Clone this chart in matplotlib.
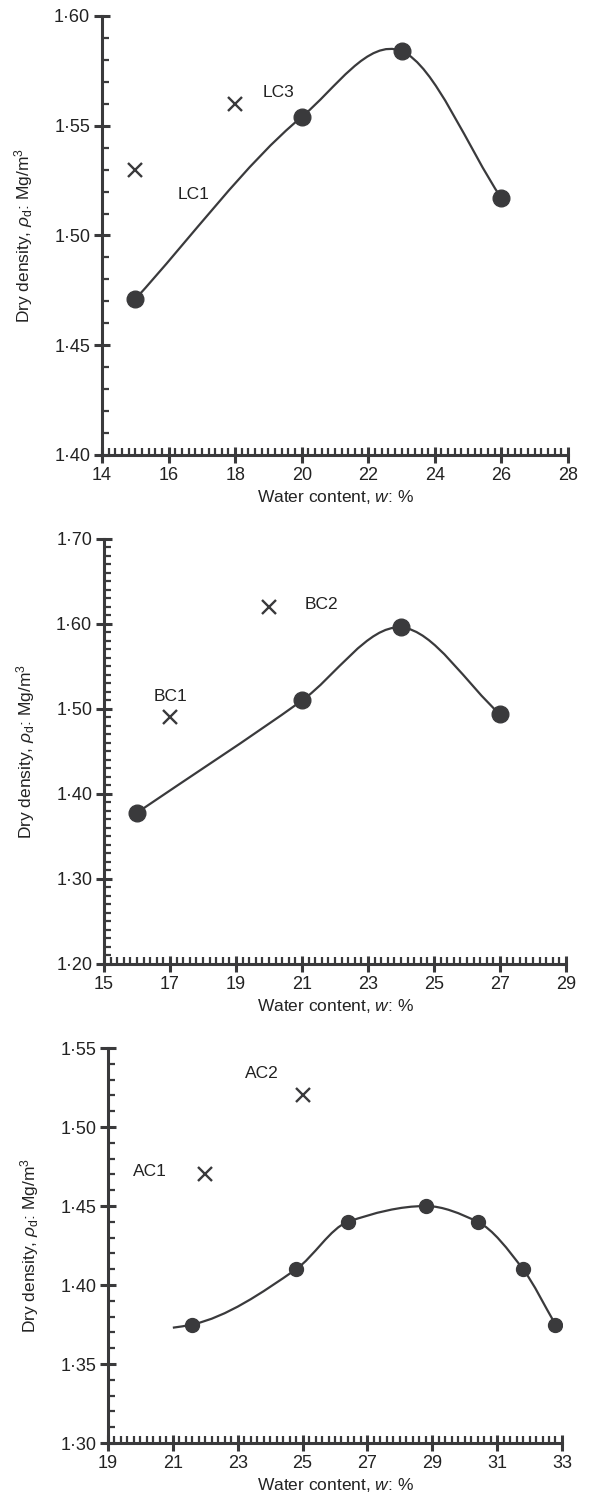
import numpy as np
import matplotlib
matplotlib.use("Agg")
import matplotlib.pyplot as plt
from matplotlib.path import Path
from matplotlib.patches import PathPatch
from matplotlib.ticker import MultipleLocator, FuncFormatter

plt.rcParams['font.family'] = ['Liberation Sans', 'DejaVu Sans']
plt.rcParams['mathtext.fontset'] = 'custom'
plt.rcParams['mathtext.rm'] = 'Liberation Sans'
plt.rcParams['mathtext.it'] = 'Liberation Sans:italic'

INK = '#3a3a3c'

# ---- data ----
# panel 1 (LC)
lc_w = [15, 20, 23, 26]
lc_rho = [1.471, 1.554, 1.584, 1.517]
lc_x_w = [15, 18]
lc_x_rho = [1.53, 1.56]
lc_names = ['LC1', 'LC3']
lc_xticks = [14, 16, 18, 20, 22, 24, 26, 28]

# panel 2 (BC)
bc_w = [16, 21, 24, 27]
bc_rho = [1.378, 1.51, 1.596, 1.494]
bc_x_w = [17, 20]
bc_x_rho = [1.49, 1.62]
bc_names = ['BC1', 'BC2']
bc_xticks = [15, 17, 19, 21, 23, 25, 27, 29]

# panel 3 (AC)
ac_w = [21.6, 24.8, 26.4, 28.8, 30.4, 31.8, 32.8]
ac_rho = [1.375, 1.41, 1.44, 1.45, 1.44, 1.41, 1.375]
ac_curve_w = [21.0, 21.6, 24.8, 26.4, 28.8, 30.4, 31.8, 32.8]
ac_curve_rho = [1.373, 1.375, 1.41, 1.44, 1.45, 1.44, 1.41, 1.375]
ac_x_w = [22, 25]
ac_x_rho = [1.47, 1.52]
ac_names = ['AC1', 'AC2']
ac_xticks = [19, 21, 23, 25, 27, 29, 31, 33]


def slopes(x, y, monotone):
    h = np.diff(x)
    s = np.diff(y) / h
    m = np.empty_like(x)
    m[0] = s[0]
    m[-1] = s[-1]
    for k in range(1, len(x) - 1):
        if monotone:
            # pchip style: flat at turning points
            if s[k - 1] * s[k] <= 0:
                m[k] = 0.0
            else:
                w1 = 2 * h[k] + h[k - 1]
                w2 = h[k] + 2 * h[k - 1]
                m[k] = (w1 + w2) / (w1 / s[k - 1] + w2 / s[k])
        else:
            m[k] = (h[k] * s[k - 1] + h[k - 1] * s[k]) / (h[k - 1] + h[k])
    return m


def smooth_path(xs, ys, monotone=False):
    # cubic hermite in x, drawn as bezier segments
    x = np.asarray(xs, float)
    y = np.asarray(ys, float)
    m = slopes(x, y, monotone)
    verts = [(x[0], y[0])]
    codes = [Path.MOVETO]
    for i in range(len(x) - 1):
        d = (x[i + 1] - x[i]) / 3
        verts += [(x[i] + d, y[i] + m[i] * d),
                  (x[i + 1] - d, y[i + 1] - m[i + 1] * d),
                  (x[i + 1], y[i + 1])]
        codes += [Path.CURVE4] * 3
    return Path(verts, codes)


dot = FuncFormatter(lambda v, pos: ('%.2f' % v).replace('.', '\u00b7'))


def setup(ax, xlim, xticks, ylim, ymaj, ymin):
    ax.set_xlim(*xlim)
    ax.set_ylim(*ylim)
    for s in ['top', 'right']:
        ax.spines[s].set_visible(False)
    for s in ['left', 'bottom']:
        ax.spines[s].set_linewidth(2.2)
        ax.spines[s].set_color(INK)
    ax.set_xticks(xticks)
    ax.xaxis.set_minor_locator(MultipleLocator(0.2))
    ax.yaxis.set_major_locator(MultipleLocator(ymaj))
    ax.yaxis.set_minor_locator(MultipleLocator(ymin))
    ax.yaxis.set_major_formatter(dot)
    ax.tick_params(which='major', direction='inout', length=11, width=2.2,
                   color=INK, labelsize=13, labelcolor='#222222', pad=3)
    ax.tick_params(which='minor', direction='in', length=5, width=1.6, color=INK)
    ax.set_xlabel(r'Water content, $w$: %', fontsize=12.5, color='#222222', labelpad=3)
    ax.set_ylabel(r'Dry density, $\rho_{\rm d}$: Mg/m$^3$', fontsize=12.5,
                  color='#222222', labelpad=14)


def draw(ax, cw, cr, mw, mr, xw, xr, names, offs, ms, monotone=False):
    ax.add_patch(PathPatch(smooth_path(cw, cr, monotone), fill=False, lw=1.6, ec=INK))
    ax.plot(mw, mr, 'o', ms=ms, color=INK, mec=INK, zorder=3)
    ax.plot(xw, xr, 'x', ms=10, mew=1.7, color=INK, zorder=3)
    for n, x, y, o in zip(names, xw, xr, offs):
        ax.annotate(n, (x, y), xytext=o, textcoords='offset points',
                    ha='center', va='center', fontsize=12.5, color='#222222')


fig = plt.figure(figsize=(5.94, 15.06), dpi=100)

ax1 = fig.add_axes([0.1717, 0.6979, 0.7845, 0.2915])
setup(ax1, (14, 28), lc_xticks, (1.40, 1.60), 0.05, 0.01)
draw(ax1, lc_w, lc_rho, lc_w, lc_rho, lc_x_w, lc_x_rho, lc_names,
     [(42, -18), (31, 8)], 12)

ax2 = fig.add_axes([0.1751, 0.3599, 0.7778, 0.2822])
setup(ax2, (15, 29), bc_xticks, (1.20, 1.70), 0.10, 0.01)
draw(ax2, bc_w, bc_rho, bc_w, bc_rho, bc_x_w, bc_x_rho, bc_names,
     [(0, 15), (38, 2)], 12)

ax3 = fig.add_axes([0.1818, 0.0418, 0.7643, 0.2623])
setup(ax3, (19, 33), ac_xticks, (1.30, 1.55), 0.05, 0.01)
draw(ax3, ac_curve_w, ac_curve_rho, ac_w, ac_rho, ac_x_w, ac_x_rho, ac_names,
     [(-40, 2), (-29, 16)], 10, monotone=True)

fig.savefig('out.png', dpi=100)
